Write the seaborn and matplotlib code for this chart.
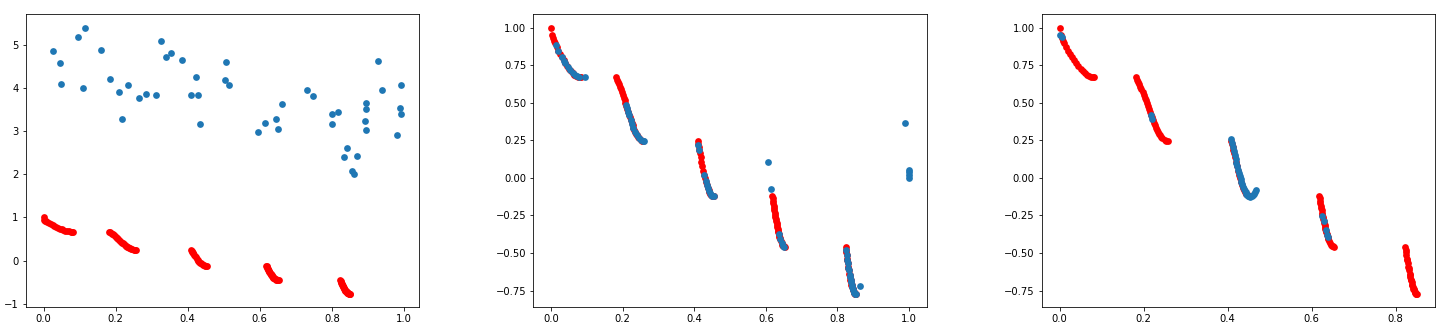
import matplotlib
matplotlib.use("Agg")
import matplotlib.pyplot as plt
import seaborn as sns

# True Pareto front (red)
front_x = [0.0, 0.0025, 0.005, 0.0075, 0.01, 0.015, 0.02, 0.025, 0.03, 0.035, 0.04, 0.045, 0.05, 0.055,
           0.06, 0.065, 0.07, 0.075, 0.08, 0.083,
           0.1822, 0.185, 0.1875, 0.19, 0.1925, 0.195, 0.1975, 0.2, 0.2025, 0.205, 0.2075, 0.21,
           0.2125, 0.215, 0.2175, 0.22, 0.2225, 0.225, 0.2275, 0.23, 0.2325, 0.235, 0.2375,
           0.24, 0.2425, 0.245, 0.25, 0.254, 0.2577,
           0.4093, 0.4108, 0.4123, 0.4136, 0.415, 0.4175, 0.42, 0.4225, 0.425, 0.4275, 0.43,
           0.4325, 0.435, 0.4375, 0.44, 0.4425, 0.445, 0.4475, 0.45, 0.4538,
           0.6183, 0.619, 0.62, 0.621, 0.622, 0.623, 0.624, 0.625, 0.626, 0.627, 0.628, 0.629,
           0.63, 0.631, 0.632, 0.633, 0.634, 0.635, 0.636, 0.637, 0.638, 0.639, 0.64,
           0.642, 0.644, 0.646, 0.648, 0.65, 0.6525,
           0.8233, 0.8245, 0.825, 0.826, 0.8275, 0.828, 0.829, 0.8305, 0.831, 0.832, 0.8335,
           0.834, 0.835, 0.8365, 0.837, 0.838, 0.8395, 0.84, 0.841, 0.8425, 0.843, 0.844,
           0.8455, 0.846, 0.847, 0.849, 0.8495, 0.8518]
front_y = [1.0, 0.950, 0.928, 0.912, 0.897, 0.871, 0.847, 0.824, 0.803, 0.782, 0.762, 0.743, 0.726, 0.711,
           0.698, 0.687, 0.679, 0.673, 0.670, 0.670,
           0.670, 0.654, 0.639, 0.623, 0.606, 0.589, 0.571, 0.553, 0.534, 0.515, 0.496, 0.477,
           0.458, 0.439, 0.420, 0.402, 0.384, 0.367, 0.350, 0.334, 0.320, 0.306, 0.293,
           0.282, 0.272, 0.263, 0.250, 0.244, 0.242,
           0.242, 0.222, 0.203, 0.186, 0.167, 0.136, 0.105, 0.076, 0.048, 0.021, -0.004,
           -0.027, -0.047, -0.066, -0.082, -0.095, -0.107, -0.115, -0.121, -0.124,
           -0.123, -0.135, -0.154, -0.169, -0.185, -0.201, -0.216, -0.233, -0.248, -0.262,
           -0.276, -0.290, -0.303, -0.316, -0.328, -0.341, -0.352, -0.363, -0.373, -0.383,
           -0.392, -0.401, -0.409, -0.423, -0.435, -0.445, -0.452, -0.456, -0.458,
           -0.457, -0.481, -0.492, -0.511, -0.539, -0.548, -0.565, -0.591, -0.599, -0.614,
           -0.637, -0.644, -0.658, -0.677, -0.683, -0.695, -0.710, -0.715, -0.725, -0.737,
           -0.741, -0.748, -0.757, -0.759, -0.764, -0.770, -0.771, -0.773]

# Panel 1: initial population (blue)
pop1_x = [0.027, 0.045, 0.047, 0.095, 0.116, 0.109, 0.159, 0.184, 0.210, 0.217, 0.234,
          0.266, 0.283, 0.313, 0.327, 0.340, 0.354, 0.384, 0.410, 0.422, 0.428, 0.435,
          0.505, 0.503, 0.514, 0.595, 0.615, 0.646, 0.651, 0.661, 0.730, 0.748, 0.801,
          0.816, 0.800, 0.842, 0.834, 0.869, 0.855, 0.862, 0.894, 0.896, 0.891, 0.894,
          0.928, 0.939, 0.993, 0.989, 0.992, 0.982]
pop1_y = [4.86, 4.57, 4.09, 5.18, 5.40, 3.99, 4.88, 4.22, 3.91, 3.29, 4.06,
          3.76, 3.87, 3.83, 5.10, 4.73, 4.81, 4.64, 3.83, 4.25, 3.83, 3.17,
          4.61, 4.19, 4.06, 2.97, 3.19, 3.29, 3.06, 3.63, 3.96, 3.82, 3.39,
          3.45, 3.17, 2.61, 2.40, 2.43, 2.08, 2.00, 3.66, 3.52, 3.23, 3.03,
          4.62, 3.95, 4.08, 3.53, 3.39, 2.92]

# Panel 2: intermediate population (blue)
pop2_x = [0.013, 0.02, 0.03, 0.036, 0.04, 0.046, 0.052, 0.06, 0.066, 0.072, 0.078, 0.094,
          0.209, 0.212, 0.215, 0.218, 0.222, 0.226, 0.23, 0.235, 0.24, 0.245, 0.25, 0.2577, 0.26,
          0.411, 0.414, 0.428, 0.432, 0.435, 0.438, 0.441, 0.444, 0.447, 0.45, 0.4538,
          0.607, 0.615, 0.636, 0.64, 0.644, 0.648, 0.652,
          0.825, 0.826, 0.828, 0.829, 0.831, 0.832, 0.834, 0.835, 0.837, 0.838, 0.84,
          0.841, 0.843, 0.844, 0.846, 0.847, 0.849, 0.852, 0.862,
          0.988, 1.0, 1.0, 1.0, 1.0]
pop2_y = [0.881, 0.847, 0.803, 0.778, 0.762, 0.740, 0.720, 0.698, 0.685, 0.676, 0.671, 0.672,
          0.485, 0.462, 0.439, 0.416, 0.387, 0.360, 0.334, 0.306, 0.282, 0.263, 0.250, 0.242, 0.242,
          0.220, 0.185, 0.020, -0.022, -0.047, -0.069, -0.088, -0.102, -0.114, -0.121, -0.124,
          0.104, -0.075, -0.373, -0.409, -0.435, -0.452, -0.458,
          -0.480, -0.511, -0.548, -0.565, -0.599, -0.614, -0.644, -0.658, -0.683, -0.695, -0.715,
          -0.725, -0.741, -0.748, -0.759, -0.764, -0.770, -0.773, -0.717,
          0.363, 0.055, 0.040, 0.020, 0.0]

# Panel 3: final population (blue)
pop3_x = [0.002, 0.006, 0.2165, 0.2205,
          0.409, 0.411, 0.413, 0.415, 0.417, 0.419, 0.421, 0.423, 0.425, 0.427, 0.429, 0.431,
          0.433, 0.435, 0.437, 0.439, 0.441, 0.443, 0.445, 0.447, 0.449, 0.451, 0.454,
          0.457, 0.46, 0.463, 0.466, 0.468,
          0.626, 0.629, 0.634, 0.637, 0.638]
pop3_y = [0.948, 0.935, 0.417, 0.390,
          0.256, 0.229, 0.203, 0.177, 0.151, 0.126, 0.101, 0.077, 0.054, 0.032, 0.011, -0.009,
          -0.027, -0.044, -0.059, -0.073, -0.085, -0.096, -0.105, -0.113, -0.118, -0.123, -0.125,
          -0.122, -0.115, -0.105, -0.093, -0.082,
          -0.256, -0.289, -0.344, -0.380, -0.393]

RED = "red"
BLUE = "#1f77b4"

fig = plt.figure(figsize=(1441 / 72, 335 / 72), dpi=72)
lefts = [25.7 / 1441, 533.3 / 1441, 1041.7 / 1441]
width = 393.5 / 1441
bottom = 27.7 / 335
height = 293.0 / 335

pops = [(pop1_x, pop1_y), (pop2_x, pop2_y), (pop3_x, pop3_y)]
for i, (px, py) in enumerate(pops):
    ax = fig.add_axes([lefts[i], bottom, width, height])
    sns.scatterplot(x=front_x, y=front_y, color=RED, s=46, linewidth=0, ax=ax)
    sns.scatterplot(x=px, y=py, color=BLUE, s=46, linewidth=0, ax=ax)
    ax.tick_params(labelsize=10)

fig.savefig("out.png", dpi=72)
